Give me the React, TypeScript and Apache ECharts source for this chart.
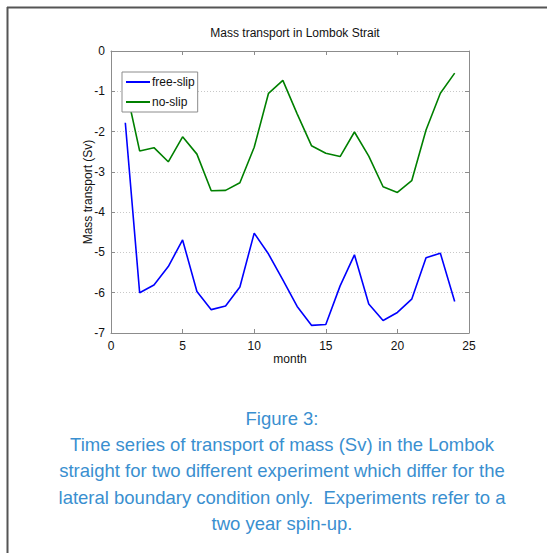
import React, { useEffect, useRef } from "react";
import * as echarts from "echarts";

const months = [1, 2, 3, 4, 5, 6, 7, 8, 9, 10, 11, 12, 13, 14, 15, 16, 17, 18, 19, 20, 21, 22, 23, 24];
const freeSlip = [-1.78, -6.0, -5.81, -5.35, -4.69, -5.97, -6.42, -6.33, -5.86, -4.52, -5.04, -5.68, -6.34, -6.81, -6.79, -5.83, -5.06, -6.28, -6.69, -6.49, -6.16, -5.13, -5.02, -6.22];
const noSlip = [-0.85, -2.48, -2.4, -2.75, -2.13, -2.56, -3.47, -3.46, -3.27, -2.39, -1.05, -0.73, -1.56, -2.35, -2.54, -2.62, -2.01, -2.61, -3.37, -3.51, -3.22, -1.96, -1.05, -0.55];
const captionLines = [
  "Figure 3:",
  "Time series of transport of mass (Sv) in the Lombok",
  "straight for two different experiment which differ for the",
  "lateral boundary condition only.  Experiments refer to a",
  "two year spin-up.",
];

const FONT = "Liberation Sans, Arial, Helvetica, sans-serif";

export default function App() {
  const ref = useRef<HTMLDivElement>(null);
  useEffect(() => {
    if (!ref.current) return;
    const chart = echarts.init(ref.current, undefined, { renderer: "svg" });
    const frameColor = "#8c8c8c";
    const tick = { show: true, inside: true, length: 4, lineStyle: { color: frameColor } };
    const line = { show: true, onZero: false, lineStyle: { color: frameColor, width: 1 } };
    const option = {
      animation: false,
      backgroundColor: "#ffffff",
      title: {
        text: "Mass transport in Lombok Strait",
        left: 290,
        textAlign: "center",
        top: 22,
        textStyle: { fontFamily: FONT, fontSize: 12, fontWeight: "normal", color: "#111" },
      },
      grid: { left: 111, right: 78, top: 51, bottom: 220, containLabel: false },
      legend: {
        orient: "vertical",
        left: 122,
        top: 72,
        data: ["free-slip", "no-slip"],
        backgroundColor: "#ffffff",
        borderColor: "#8c8c8c",
        borderWidth: 1,
        borderRadius: 0,
        padding: [3, 3, 3, 4],
        itemGap: 6,
        itemWidth: 24,
        itemHeight: 2,
        icon: "rect",
        textStyle: { fontFamily: FONT, fontSize: 12, color: "#111", lineHeight: 14, padding: [0, 0, 0, -3] },
      },
      xAxis: [
        {
          type: "value",
          min: 0,
          max: 25,
          interval: 5,
          name: "month",
          nameLocation: "middle",
          nameGap: 20,
          nameMoveOverlap: false,
          nameTextStyle: { fontFamily: FONT, fontSize: 12, color: "#111" },
          axisLine: line,
          axisTick: tick,
          axisLabel: { fontFamily: FONT, fontSize: 12, color: "#111", margin: 7 },
          splitLine: { show: false },
        },
        {
          type: "value",
          position: "top",
          min: 0,
          max: 25,
          interval: 5,
          axisLine: line,
          axisTick: tick,
          axisLabel: { show: false },
          splitLine: { show: false },
        },
      ],
      yAxis: [
        {
          type: "value",
          min: -7,
          max: 0,
          interval: 1,
          name: "Mass transport (Sv)",
          nameLocation: "middle",
          nameGap: 17,
          nameRotate: 90,
          nameMoveOverlap: false,
          nameTextStyle: { fontFamily: FONT, fontSize: 12, color: "#111" },
          axisLine: line,
          axisTick: tick,
          axisLabel: { fontFamily: FONT, fontSize: 12, color: "#111", margin: 6 },
          splitLine: { show: true, lineStyle: { color: "#c8c8c8", type: [1, 2], width: 1 } },
        },
        {
          type: "value",
          position: "right",
          min: -7,
          max: 0,
          interval: 1,
          axisLine: line,
          axisTick: tick,
          axisLabel: { show: false },
          splitLine: { show: false },
        },
      ],
      series: [
        {
          name: "free-slip",
          type: "line",
          data: months.map((m, i) => [m, freeSlip[i]]),
          showSymbol: false,
          symbol: "none",
          itemStyle: { color: "#0000ff" },
          lineStyle: { color: "#0000ff", width: 1.6 },
          z: 2,
        },
        {
          name: "no-slip",
          type: "line",
          data: months.map((m, i) => [m, noSlip[i]]),
          showSymbol: false,
          symbol: "none",
          itemStyle: { color: "#008000" },
          lineStyle: { color: "#008000", width: 1.6 },
          z: 2,
        },
      ],
      graphic: [
        { type: "line", shape: { x1: 7, y1: 7.5, x2: 547, y2: 7.5 }, style: { stroke: "#555", lineWidth: 2 } },
        { type: "line", shape: { x1: 7.5, y1: 7, x2: 7.5, y2: 553 }, style: { stroke: "#555", lineWidth: 2 } },
        ...captionLines.map((t, i) => ({
          type: "text",
          x: 282,
          y: 418 + i * 26.4,
          style: {
            text: t,
            fontFamily: FONT,
            fontSize: 18.5,
            fill: "#3a8fd0",
            textAlign: "center",
            textVerticalAlign: "middle",
          },
        })),
      ],
    };
    chart.setOption(option as any);
    return () => chart.dispose();
  }, []);
  return (
    <div
      ref={ref}
      style={{ position: "fixed", left: 0, top: 0, width: 547, height: 553, background: "#fff" }}
    />
  );
}
